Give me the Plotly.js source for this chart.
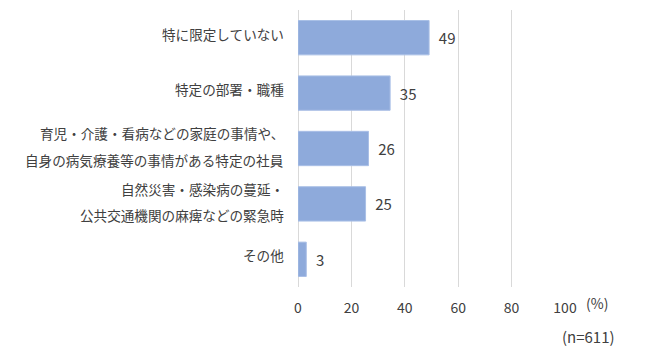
<!DOCTYPE html>
<html><head><meta charset="utf-8">
<script src="https://cdn.plot.ly/plotly-3.0.1.min.js"></script>
<style>html,body{margin:0;padding:0;background:#fff}</style>
</head><body><div id="chart" style="width:653px;height:364px"></div>
<script>
const categories = [
  "特に限定していない",
  "特定の部署・職種",
  "育児・介護・看病などの家庭の事情や、\n自身の病気療養等の事情がある特定の社員",
  "自然災害・感染病の蔓延・\n公共交通機関の麻痺などの緊急時",
  "その他"
];
const values = [49.1, 34.5, 26.4, 25.3, 3.1];
const tickVals = [0, 20, 40, 60, 80, 100];
const unitLabel = "(%)";
const sampleNote = "(n=611)";

const FONT = '"Noto Sans CJK JP", "Noto Sans", sans-serif';
const TXT = '#404040';

const annotations = [];
categories.forEach((c) => {
  const lines = c.split("\n");
  const n = lines.length;
  lines.forEach((ln, i) => {
    annotations.push({
      xref: 'paper', yref: 'y', x: 0, y: c,
      xanchor: 'right', yanchor: 'middle', xshift: -12,
      yshift: (n === 1) ? 4 : ((n - 1) / 2 - i) * 26.5 + 2,
      text: ln, showarrow: false,
      font: {family: FONT, size: 13.6, color: TXT}
    });
  });
});
annotations.push({xref:'paper', yref:'paper', x:1, y:0, xanchor:'left', yanchor:'middle', xshift:19, yshift:-16,
  text: unitLabel, showarrow:false, font:{family:FONT,size:14,color:TXT}});
annotations.push({xref:'paper', yref:'paper', x:1, y:0, xanchor:'left', yanchor:'middle', xshift:-5, yshift:-49,
  text: sampleNote, showarrow:false, font:{family:FONT,size:15,color:TXT}});

const trace = {
  type: 'bar', orientation: 'h',
  y: categories, x: values,
  width: 0.62,
  marker: {color: '#8eaadb', line: {color: '#a9bfe6', width: 1}},
  text: values.map(v => Math.round(v).toString()),
  texttemplate: '  %{text}',
  textposition: 'outside',
  cliponaxis: false,
  textfont: {family: FONT, size: 15, color: TXT},
  hoverinfo: 'none'
};

const layout = {
  width: 653, height: 364,
  margin: {l: 298, r: 88, t: 10, b: 77},
  paper_bgcolor: '#fff', plot_bgcolor: '#fff',
  showlegend: false,
  bargap: 0.38,
  xaxis: {
    range: [0, 100], tickvals: tickVals, ticktext: tickVals.map(String),
    showgrid: true, gridcolor: '#d9d9d9', gridwidth: 1,
    zeroline: true, zerolinecolor: '#d9d9d9', zerolinewidth: 1,
    showline: false, ticks: 'outside', ticklen: 8, tickcolor: 'rgba(0,0,0,0)',
    tickfont: {family: FONT, size: 14, color: TXT}, fixedrange: true
  },
  yaxis: {
    type: 'category', autorange: 'reversed',
    showticklabels: false, showgrid: false, zeroline: false, ticks: '', fixedrange: true
  },
  annotations: annotations
};

Plotly.newPlot('chart', [trace], layout, {staticPlot: true, displayModeBar: false});
</script></body></html>
